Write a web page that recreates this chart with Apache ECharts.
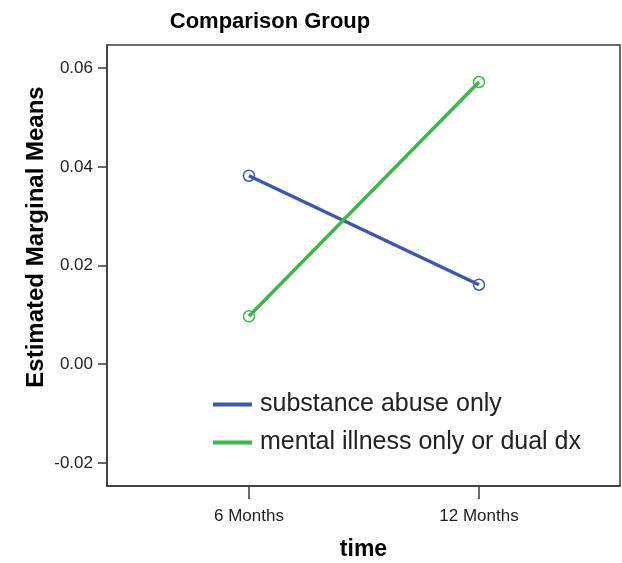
<!DOCTYPE html>
<html>
<head>
<meta charset="utf-8">
<script src="https://cdn.jsdelivr.net/npm/echarts@6/dist/echarts.min.js"></script>
<style>
  html, body { margin: 0; padding: 0; background: #fff; }
  #chart { width: 622px; height: 563px; }
</style>
</head>
<body>
<div id="chart"></div>
<script>
// Time points (x positions 1 and 2 on a value axis)
const timeLabels = ['6 Months', '12 Months'];
const timePos = [1, 2];
// Estimated marginal means per group
const groupNames = ['substance abuse only', 'mental illness only or dual dx'];
const substanceAbuse = [0.0382, 0.0161];
const mentalIllness = [0.0097, 0.0572];
const yTicks = [-0.02, 0.00, 0.02, 0.04, 0.06];

const BLUE = '#3d57ad';
const GREEN = '#3cb74a';
const FONT = '"Liberation Sans", Arial, sans-serif';

const chart = echarts.init(document.getElementById('chart'));

function seriesFor(name, values, color) {
  return {
    name: name,
    type: 'line',
    data: timePos.map((x, i) => [x, values[i]]),
    symbol: 'circle',
    symbolSize: 11,
    lineStyle: { color: color, width: 3.5 },
    itemStyle: { color: 'rgba(255,255,255,0)', borderColor: color, borderWidth: 1.5 },
    emphasis: { disabled: true },
    z: 3
  };
}

chart.setOption({
  animation: false,
  backgroundColor: '#fff',
  title: {
    text: 'Comparison Group',
    left: 265,
    textAlign: 'center',
    top: 6,
    textStyle: { fontFamily: FONT, fontSize: 22, fontWeight: 'bold', color: '#000' }
  },
  grid: {
    left: 107, right: 2, top: 45, bottom: 77,
    outerBoundsMode: 'none',
    containLabel: false,
    show: true, borderColor: '#3a3a3a', borderWidth: 1.5, backgroundColor: '#fff'
  },
  xAxis: {
    type: 'value',
    min: 0.383,
    max: 2.613,
    splitLine: { show: false },
    axisLine: { onZero: false, lineStyle: { color: '#3a3a3a', width: 1.5 } },
    axisTick: { customValues: timePos, length: 13, lineStyle: { color: '#3a3a3a', width: 1.5 } },
    axisLabel: {
      customValues: timePos,
      formatter: v => timeLabels[timePos.indexOf(v)] || '',
      margin: 22,
      fontFamily: FONT, fontSize: 17, color: '#222'
    },
    name: 'time',
    nameLocation: 'middle',
    nameGap: 52,
    nameTextStyle: { fontFamily: FONT, fontSize: 23, fontWeight: 'bold', color: '#000' }
  },
  yAxis: {
    type: 'value',
    min: -0.0247,
    max: 0.0647,
    splitLine: { show: false },
    axisLine: { lineStyle: { color: '#3a3a3a', width: 1.5 } },
    axisTick: { customValues: yTicks, length: 9, lineStyle: { color: '#3a3a3a', width: 1.5 } },
    axisLabel: {
      customValues: yTicks,
      formatter: v => v.toFixed(2),
      margin: 14,
      fontFamily: FONT, fontSize: 17, color: '#222'
    }
  },
  legend: {
    orient: 'vertical',
    left: 213,
    top: 392,
    padding: 0,
    itemWidth: 39,
    itemHeight: 4,
    itemGap: 13,
    icon: 'rect',
    data: [
      { name: groupNames[0], itemStyle: { color: BLUE, borderWidth: 0 } },
      { name: groupNames[1], itemStyle: { color: GREEN, borderWidth: 0 } }
    ],
    textStyle: { fontFamily: FONT, fontSize: 25, color: '#222', lineHeight: 25, padding: [0, 0, 0, 3] },
    selectedMode: false
  },
  graphic: [{
    type: 'text',
    x: 36,
    y: 237,
    rotation: Math.PI / 2,
    style: {
      text: 'Estimated Marginal Means',
      fontFamily: FONT, fontSize: 24, fontWeight: 'bold', fill: '#000',
      textAlign: 'center', textVerticalAlign: 'middle'
    }
  }],
  series: [
    seriesFor(groupNames[0], substanceAbuse, BLUE),
    seriesFor(groupNames[1], mentalIllness, GREEN)
  ]
});
</script>
</body>
</html>
